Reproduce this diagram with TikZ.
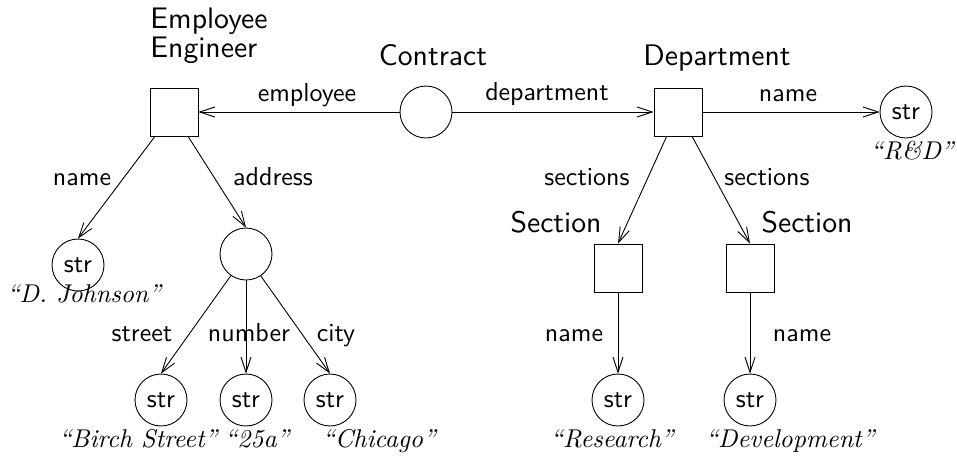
\documentclass[tikz,border=0pt]{standalone}
\usepackage{fontspec}
\usetikzlibrary{arrows.meta}

\newfontfamily\sanstext[Extension=.otf]{lmsans10-regular}
\newfontfamily\italtext[Extension=.otf, Ligatures=TeX]{lmroman10-italic}
\newcommand{\typefont}{\sanstext\fontsize{29.7}{30}\selectfont}
\newcommand{\attrfont}{\sanstext\fontsize{26}{26}\selectfont}
\newcommand{\valfont}{\italtext\fontsize{25.7}{26}\selectfont}

\tikzset{
  box/.style={draw, minimum size=48pt, inner sep=0pt},
  obj/.style={draw, circle, minimum size=52pt, inner sep=0pt},
  strnode/.style={obj, font=\attrfont},
  typename/.style={font=\typefont, inner sep=0pt},
  attr/.style={font=\attrfont, inner sep=0pt, anchor=base},
  value/.style={font=\valfont, inner sep=0pt, anchor=base}
}

\begin{document}
\begin{tikzpicture}[x=1pt, y=-1pt, line width=0.9pt, >={Straight Barb[length=15pt,width=10pt]}]

  \useasboundingbox (0,0) rectangle (957,456);

  \node[box] (emp) at (174,112) {};
  \node[obj] (contract) at (426,112) {};
  \node[box] (dept) at (678,112) {};
  \node[strnode] (deptname) at (906,112) {str};

  \node[strnode] (empname) at (78,265) {str};
  \node[obj] (addr) at (246,254) {};
  \node[strnode] (street) at (161,400) {str};
  \node[strnode] (number) at (246,400) {str};
  \node[strnode] (city) at (330,400) {str};

  \node[box] (secA) at (618,268) {};
  \node[box] (secB) at (750,268) {};
  \node[strnode] (secAname) at (618,400) {str};
  \node[strnode] (secBname) at (750,400) {str};

  \node[typename, anchor=base west] (employee) at (150,28) {Employee};
  \node[typename, anchor=base west] (engineer) at (150,57) {Engineer};
  \node[typename, anchor=base] (contracttype) at (433,65) {Contract};
  \node[typename, anchor=base] (depttype) at (717,65) {Department};
  \node[typename, anchor=base] (secAtype) at (556,232) {Section};
  \node[typename, anchor=base] (secBtype) at (807,232) {Section};

  \draw[->] (contract) -- (emp) node[attr] at (307,101) {employee};
  \draw[->] (contract) -- (dept) node[attr] at (547,100) {department};
  \draw[->] (dept) -- (deptname) node[attr] at (788,101) {name};

  \draw[->] (emp.-128) -- (empname.north) node[attr] at (82,185) {name};
  \draw[->] (emp.-60) -- (addr.north) node[attr] at (273,185) {address};

  \draw[->] (addr.-125) -- (street.north) node[attr] at (142,341) {street};
  \draw[->] (addr.south) -- (number.north) node[attr] at (249,341) {number};
  \draw[->] (addr.-56) -- (city.north) node[attr] at (336,341) {city};

  \draw[->] (dept.-115) -- (secA.north) node[attr] at (587,185) {sections};
  \draw[->] (dept.-60) -- (secB.north) node[attr] at (767,185) {sections};
  \draw[->] (secA) -- (secAname) node[attr] at (574,341) {name};
  \draw[->] (secB) -- (secBname) node[attr] at (802,341) {name};

  \node[value] (v1) at (912,159) {``R\&D''};
  \node[value] (v2) at (84,302) {``D. Johnson''};
  \node[value] (v3) at (138,447) {``Birch Street''};
  \node[value] (v4) at (257,447) {``25a''};
  \node[value] (v5) at (379,447) {``Chicago''};
  \node[value] (v6) at (612,447) {``Research''};
  \node[value] (v7) at (790,447) {``Development''};
\end{tikzpicture}
\end{document}
